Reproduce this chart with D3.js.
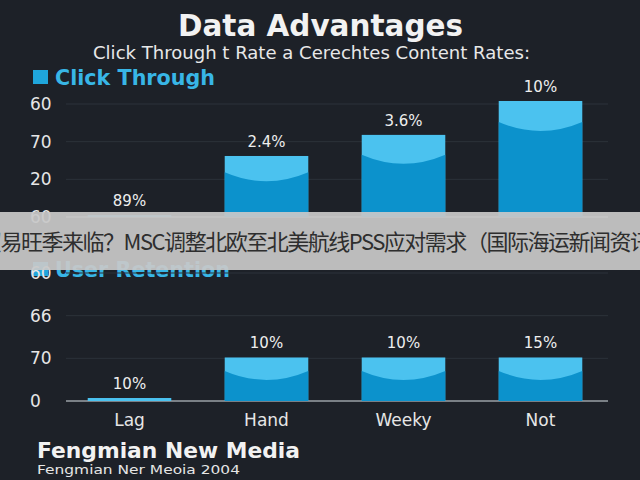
<!DOCTYPE html>
<html><head><meta charset="utf-8">
<script src="https://cdn.jsdelivr.net/npm/d3@7"></script>
<style>body{margin:0;background:#1d2128}svg{display:block}</style>
</head><body>
<script>
const categories = ["Lag","Hand","Weeky","Not"];
const clickTickLabels = ["60","20","70","60"];
const clickValues = [0.05, 1.62, 2.18, 3.08];
const clickLabels = ["89%","2.4%","3.6%","10%"];
const retTickLabels = ["0","70","66","60"];
const retValues = [0.07, 1.02, 1.02, 1.02];
const retLabels = ["10%","10%","10%","15%"];

const W=640,H=480;
const svg=d3.select("body").append("svg").attr("width",W).attr("height",H);
svg.append("rect").attr("width",W).attr("height",H).attr("fill","#1d2128");
const F="DejaVu Sans, Verdana, sans-serif";

svg.append("text").attr("x",178).attr("y",36).attr("font-family",F).attr("textLength",285).attr("lengthAdjust","spacingAndGlyphs")
  .attr("font-weight","bold").attr("font-size",31).attr("fill","#f2f2f2").text("Data Advantages");
svg.append("text").attr("x",93).attr("y",59).attr("font-family",F).attr("textLength",437).attr("lengthAdjust","spacingAndGlyphs")
  .attr("font-size",17).attr("fill","#e8e8e8").text("Click Through t Rate a Cerechtes Content Rates:");

const x=d3.scaleBand().domain(categories).range([61,609]).paddingInner(0.39).paddingOuter(0.195);

function panel(y0,y1,tickLabels,values,labels,legend,ly,lw){
  const y=d3.scaleLinear().domain([0,3]).range([y0,y1]);
  const g=svg.append("g");
  g.append("rect").attr("x",33).attr("y",ly-15).attr("width",15).attr("height",14).attr("fill","#1fa6dc");
  g.append("text").attr("x",55).attr("y",ly).attr("font-family",F).attr("font-weight","bold").attr("textLength",lw).attr("lengthAdjust","spacingAndGlyphs")
    .attr("font-size",21).attr("fill","#38b6e6").text(legend);
  [0,1,2,3].forEach(i=>{
    g.append("line").attr("x1",66).attr("x2",608).attr("y1",y(i)).attr("y2",y(i))
      .attr("stroke",i==0?"#9aa0a6":"#2c323a").attr("stroke-width",i==0?1.5:1);
    g.append("text").attr("x",30).attr("y",y(i)+6).attr("font-family",F).attr("font-size",17)
      .attr("fill","#e6e6e6").text(tickLabels[i]);
  });
  categories.forEach((c,i)=>{
    const bx=x(c),bw=x.bandwidth(),top=y(values[i]),h=y0-top;
    g.append("rect").attr("x",bx).attr("y",top).attr("width",bw).attr("height",h).attr("fill","#4bc2ef");
    if(h>8){
      const a=Math.min(21,h*0.17+6),cc=9;
      g.append("path").attr("d",`M${bx},${top+a} Q${bx+bw/2},${top+a+2*cc} ${bx+bw},${top+a} L${bx+bw},${y0} L${bx},${y0} Z`)
        .attr("fill","#0c92cc");
    }
    g.append("text").attr("x",bx+bw/2).attr("y",top-9).attr("text-anchor","middle").attr("font-family",F)
      .attr("font-size",15).attr("fill","#eeeeee").text(labels[i]);
  });
}
panel(217,104,clickTickLabels,clickValues,clickLabels,"Click Through",85,160);
panel(401,273,retTickLabels,retValues,retLabels,"User Retention",277,175);
categories.forEach(c=>{
  svg.append("text").attr("x",x(c)+x.bandwidth()/2).attr("y",426).attr("text-anchor","middle")
    .attr("font-family",F).attr("font-size",17).attr("fill","#e6e6e6").text(c);
});
svg.append("text").attr("x",37).attr("y",458).attr("font-family",F).attr("font-weight","bold").attr("textLength",263).attr("lengthAdjust","spacingAndGlyphs")
  .attr("font-size",21).attr("fill","#f2f2f2").text("Fengmian New Media");
svg.append("text").attr("x",37).attr("y",474).attr("font-family",F).attr("textLength",203).attr("lengthAdjust","spacingAndGlyphs")
  .attr("font-size",13).attr("fill","#e6e6e6").text("Fengmian Ner Meoia 2004");

svg.append("rect").attr("x",0).attr("y",212).attr("width",W).attr("height",58).attr("fill","rgba(200,200,200,0.93)");
svg.append("text").attr("x",-20).attr("y",250).attr("font-family","Noto Sans CJK SC").attr("font-size",22)
  .attr("fill","#2e2e2e").attr("textLength",672).text("贸易旺季来临？MSC调整北欧至北美航线PSS应对需求（国际海运新闻资讯");
</script>
</body></html>
